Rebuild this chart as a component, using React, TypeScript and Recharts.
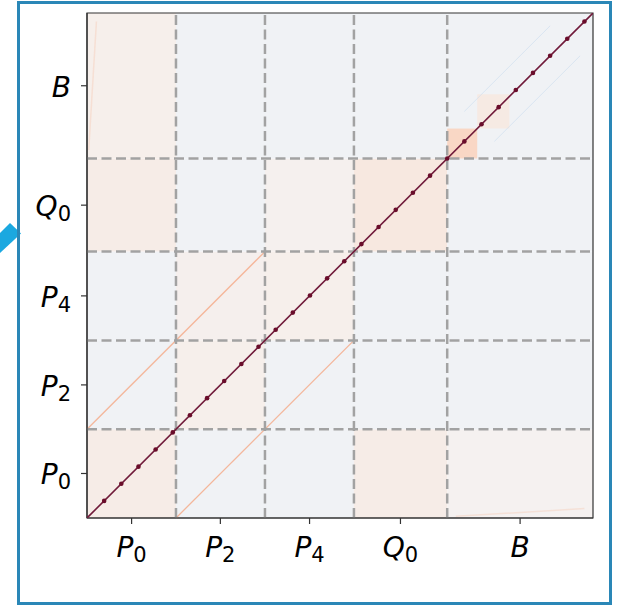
import React from 'react'
import { ScatterChart, Scatter, XAxis, YAxis, ReferenceArea, ReferenceLine } from 'recharts'

// matrix size (bins) and the bin edges of the parameter groups
const N_BINS = 118
const blockEdges = [0, 20.75, 41.5, 62.25, 84, 118]
const blockCenters = [10.4, 31.1, 51.9, 73.1, 101]
const blockNames = ['P', 'P', 'P', 'Q', 'B']
const blockSubs = ['0', '2', '4', '0', '']

// mean correlation per block; rows go P0 (bottom) .. B (top), columns P0 .. B
const blockLevels = [
  [0.035, 0, 0, 0.035, 0.005],
  [0, 0.02, 0, 0, 0],
  [0, 0.015, 0.02, 0, 0],
  [0.035, 0, 0.01, 0.06, 0],
  [0.02, 0, 0, 0, 0],
]

// stronger sub-blocks inside B x B
const bPatchX1 = [84, 91]
const bPatchX2 = [91, 98.5]
const bPatchY1 = [84, 91]
const bPatchY2 = [91, 99]
const bPatchLevels = [0.16, 0.05]

// bins carrying a diagonal marker
const diagMarks = [4, 8, 12, 16, 20, 24, 28, 32, 36, 40, 44, 48, 52, 56, 60, 64, 68, 72, 76, 80, 84, 88, 92, 96, 100, 104, 108, 112, 116]

// off-diagonal ridges: [x1, y1, x2, y2]
const orangeRidges = [
  [0, 20.75, 41.5, 62.25],
  [20.75, 0, 62.25, 41.5],
]
const faintRidges = [
  [2.2, 116, 0.4, 86],
  [116, 2.2, 86, 0.4],
]
const blueRidges = [
  [88, 95, 108, 115],
  [95, 88, 115, 108],
]

const hex = (c: number[]) => '#' + c.map((v) => Math.round(v).toString(16).padStart(2, '0')).join('')
const mix = (a: number[], b: number[], t: number) => a.map((v, i) => v + (b[i] - v) * t)

const BASE = [240, 242, 245]
const WARM0 = [245, 242, 241]
const WARM1 = [252, 200, 172]

const levelColor = (level: number) => {
  if (level <= 0) return hex(BASE)
  return hex(mix(WARM0, WARM1, Math.min(1, level / 0.25)))
}

const FONT = 'DejaVu Sans, sans-serif'

const XTick = (props: any) => {
  const { x, y, payload } = props
  const i = blockCenters.indexOf(payload.value)
  return (
    <text x={x} y={y + 31} textAnchor="middle" fontFamily={FONT} fontSize={28} fill="#000">
      <tspan fontStyle="italic">{blockNames[i]}</tspan>
      {blockSubs[i] && (
        <tspan fontSize={21} dy={5}>
          {blockSubs[i]}
        </tspan>
      )}
    </text>
  )
}

const YTick = (props: any) => {
  const { x, y, payload } = props
  const i = blockCenters.indexOf(payload.value)
  return (
    <text x={x - 8} y={y + 11} textAnchor="end" fontFamily={FONT} fontSize={28} fill="#000">
      <tspan fontStyle="italic">{blockNames[i]}</tspan>
      {blockSubs[i] && (
        <tspan fontSize={21} dy={5}>
          {blockSubs[i]}
        </tspan>
      )}
    </text>
  )
}

const Dot = (props: any) => <circle cx={props.cx} cy={props.cy} r={2.3} fill="#6a0d2b" />
const NoDot = () => <g />

export default function App() {
  const innerEdges = blockEdges.slice(1, -1)
  const diagLine = [
    { x: 0, y: 0 },
    { x: N_BINS, y: N_BINS },
  ]
  const diagDots = diagMarks.map((b) => ({ x: b, y: b }))

  return (
    <div style={{ position: 'absolute', left: 0, top: 0, width: 628, height: 605, background: '#fff' }}>
      <svg width={24} height={40} style={{ position: 'absolute', left: 0, top: 215 }}>
        <polygon points="0,18 10,8 21,18.5 0,38" fill="#1ba8e0" />
      </svg>
      <div
        style={{
          position: 'absolute',
          left: 17,
          top: 1,
          width: 595,
          height: 604,
          boxSizing: 'border-box',
          border: '3px solid #2a87b7',
        }}
      />
      <div style={{ position: 'absolute', left: 0, top: 0 }}>
        <ScatterChart width={628} height={605} margin={{ top: 13, right: 35, left: 27, bottom: 37 }}>
          <XAxis
            type="number"
            dataKey="x"
            domain={[0, N_BINS]}
            allowDataOverflow
            ticks={blockCenters}
            interval={0}
            height={50}
            tickSize={6}
            tickMargin={2}
            tick={<XTick />}
            tickLine={{ stroke: '#333', strokeWidth: 1.2 }}
            axisLine={{ stroke: '#333', strokeWidth: 1.2 }}
          />
          <YAxis
            type="number"
            dataKey="y"
            domain={[0, N_BINS]}
            allowDataOverflow
            ticks={blockCenters}
            interval={0}
            width={60}
            tickSize={6}
            tickMargin={2}
            tick={<YTick />}
            tickLine={{ stroke: '#333', strokeWidth: 1.2 }}
            axisLine={{ stroke: '#333', strokeWidth: 1.2 }}
          />
          {blockLevels.map((row, r) =>
            row.map((level, c) => (
              <ReferenceArea
                key={`blk-${r}-${c}`}
                x1={blockEdges[c]}
                x2={blockEdges[c + 1]}
                y1={blockEdges[r]}
                y2={blockEdges[r + 1]}
                fill={levelColor(level)}
                fillOpacity={1}
                stroke="none"
              />
            ))
          )}
          {bPatchLevels.map((level, i) => (
            <ReferenceArea
              key={`patch-${i}`}
              x1={bPatchX1[i]}
              x2={bPatchX2[i]}
              y1={bPatchY1[i]}
              y2={bPatchY2[i]}
              fill={levelColor(level)}
              fillOpacity={1}
              stroke="none"
            />
          ))}
          {orangeRidges.map((s, i) => (
            <ReferenceLine
              key={`ridge-${i}`}
              segment={[
                { x: s[0], y: s[1] },
                { x: s[2], y: s[3] },
              ]}
              stroke="#f4ab8b"
              strokeWidth={1.3}
              strokeOpacity={0.85}
            />
          ))}
          {faintRidges.map((s, i) => (
            <ReferenceLine
              key={`faint-${i}`}
              segment={[
                { x: s[0], y: s[1] },
                { x: s[2], y: s[3] },
              ]}
              stroke="#f6c2aa"
              strokeWidth={1.5}
              strokeOpacity={0.35}
            />
          ))}
          {blueRidges.map((s, i) => (
            <ReferenceLine
              key={`blue-${i}`}
              segment={[
                { x: s[0], y: s[1] },
                { x: s[2], y: s[3] },
              ]}
              stroke="#c9dcee"
              strokeWidth={1}
              strokeOpacity={0.6}
            />
          ))}
          {innerEdges.map((e) => (
            <ReferenceLine key={`vx-${e}`} x={e} stroke="#a2a2a2" strokeWidth={2.5} strokeDasharray="10 4.5" />
          ))}
          {innerEdges.map((e) => (
            <ReferenceLine key={`hy-${e}`} y={e} stroke="#a2a2a2" strokeWidth={2.5} strokeDasharray="10 4.5" />
          ))}
          <ReferenceArea x1={0} x2={N_BINS} y1={0} y2={N_BINS} fill="none" stroke="#333" strokeWidth={1.2} />
          <Scatter
            data={diagLine}
            line={{ stroke: '#701a3a', strokeWidth: 1.6 }}
            shape={<NoDot />}
            isAnimationActive={false}
          />
          <Scatter data={diagDots} shape={<Dot />} isAnimationActive={false} />
        </ScatterChart>
      </div>
    </div>
  )
}
